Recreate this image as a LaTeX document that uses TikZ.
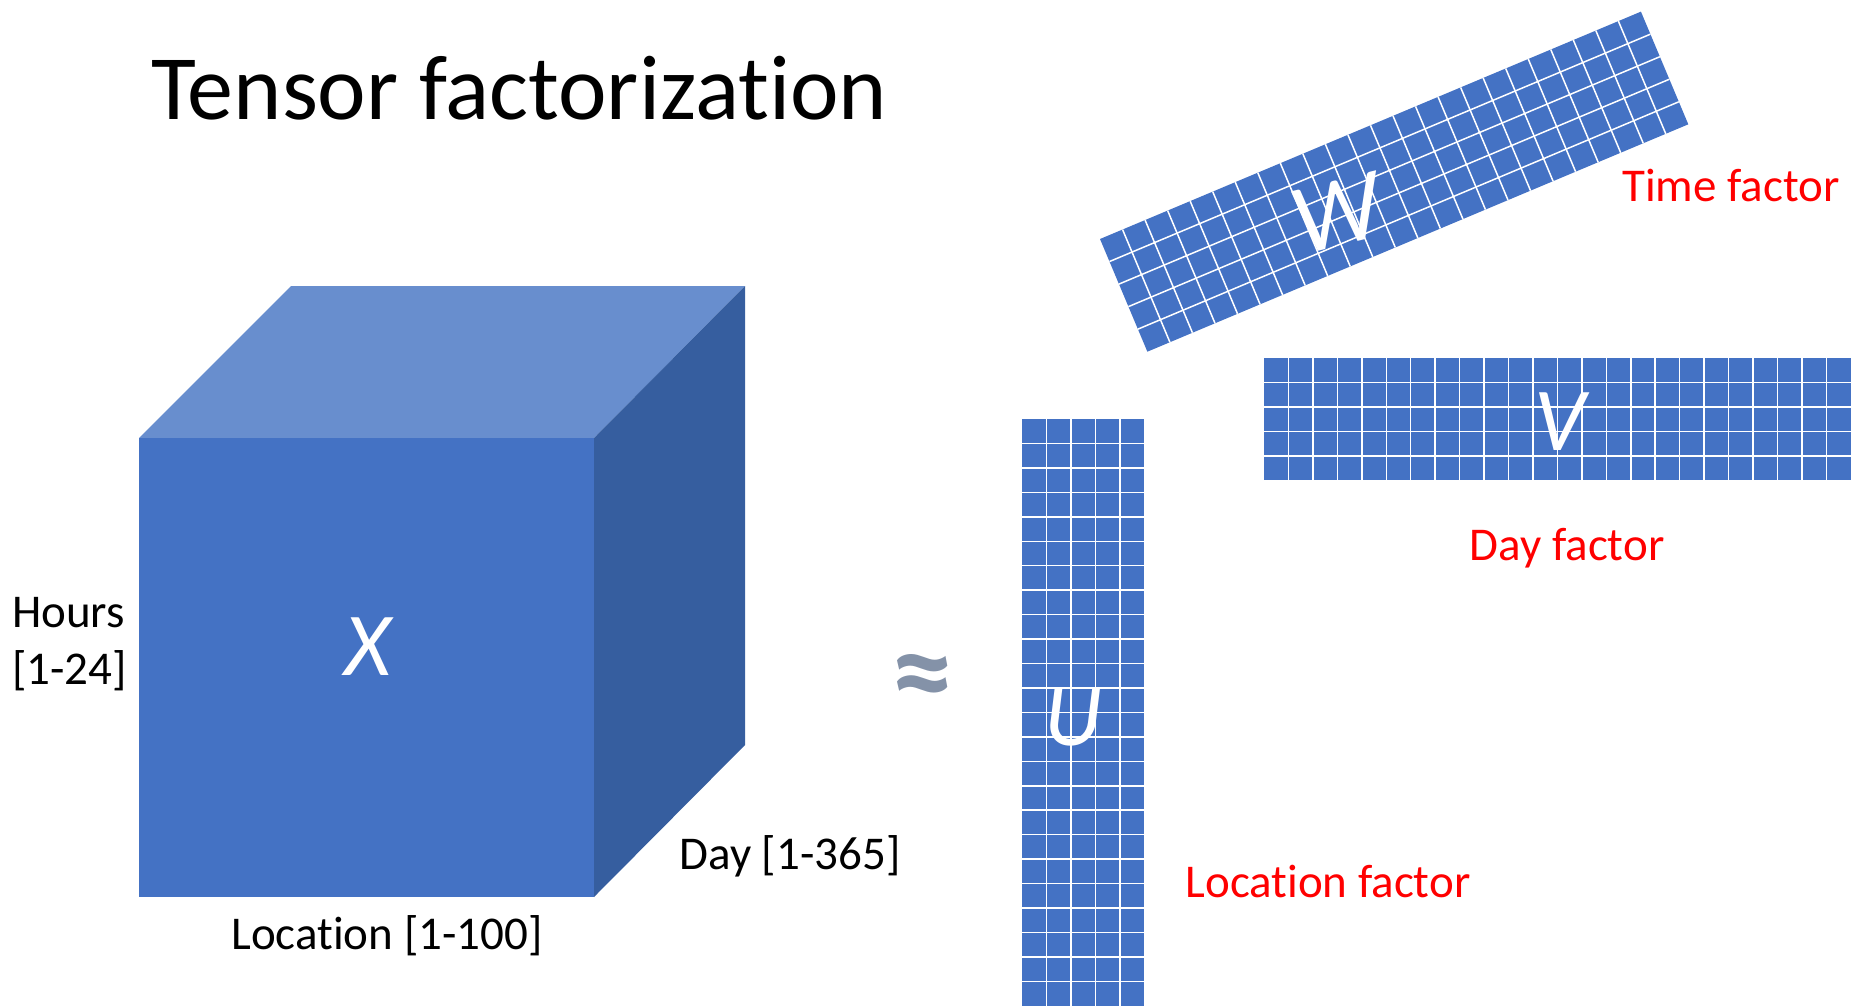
\documentclass[tikz,border=0pt]{standalone}
\usepackage{fontspec}
\setmainfont{Carlito}[Ligatures=NoCommon]
\usetikzlibrary{positioning}
\definecolor{officeblue}{RGB}{68,114,196}
\definecolor{cubetop}{RGB}{104,142,206}
\definecolor{cubeside}{RGB}{54,94,159}
\definecolor{approxgray}{RGB}{132,146,168}
\definecolor{factorred}{RGB}{255,0,0}
\newcommand{\cellsize}{24.45}
% filled factor matrix with white cell lines: #1 columns, #2 rows
\newcommand{\factorgrid}[2]{%
    \fill[officeblue] (0,0) rectangle (#1*\cellsize,#2*\cellsize);
    \foreach \i in {1,...,\numexpr#1-1\relax}
        \draw[gridline] (\i*\cellsize,0) -- (\i*\cellsize,#2*\cellsize);
    \foreach \j in {1,...,\numexpr#2-1\relax}
        \draw[gridline] (0,\j*\cellsize) -- (#1*\cellsize,\j*\cellsize);
}
\tikzset{
    lbl/.style={font=\fontsize{47}{57}\selectfont, inner sep=0pt},
    redlbl/.style={lbl, text=factorred},
    bigletter/.style={font=\fontsize{90}{100}\selectfont\itshape, text=white, inner sep=0pt},
    gridline/.style={white, line width=1.5pt},
}

\begin{document}
\begin{tikzpicture}[x=1pt,y=-1pt]
    \useasboundingbox (0,0) rectangle (1863,1005);
    \node[anchor=base west, font=\fontsize{92}{106}\selectfont, inner sep=0pt] (title) at (151,119) {Tensor factorization};

    % --- Data cube X ---
    \fill[cubetop] (139,438) -- (291,286) -- (745,286) -- (594,438) -- cycle;
    \fill[cubeside] (594,438) -- (745,286) -- (745,745) -- (594,897) -- cycle;
    \fill[officeblue] (139,438) rectangle (594,897);
    \node[bigletter] (X) at (368,647) {X};
    \node[lbl, align=left, anchor=west] (hours) at (12,644) {Hours\\{[1-24]}};
    \node[lbl] (location) at (387,936) {Location [1-100]};
    \node[lbl] (day) at (790,856) {Day [1-365]};
    \node[font=\fontsize{125}{130}\selectfont\bfseries, text=approxgray, inner sep=0pt] (approx) at (923,684) {≈};

    % --- Location factor U ---
    \begin{scope}[shift={(1022,419)}]
        \factorgrid{5}{24}
        \node[bigletter] (U) at (2.1*\cellsize,12.2*\cellsize) {U};
    \end{scope}
    \node[redlbl] (ulabel) at (1328,881) {Location factor};

    % --- Day factor V ---
    \begin{scope}[shift={(1264,358)}]
        \factorgrid{24}{5}
        \node[bigletter] (V) at (12.1*\cellsize,2.6*\cellsize) {V};
    \end{scope}
    \node[redlbl] (vlabel) at (1567,548) {Day factor};

    % --- Time factor W ---
    \begin{scope}[shift={(1100,239)}, rotate=22.8]
        \factorgrid{24}{5}
        \node[bigletter, font=\fontsize{100}{110}\selectfont\itshape, rotate=14] (W) at (9.33*\cellsize,2.8*\cellsize) {W};
    \end{scope}
    \node[redlbl] (wlabel) at (1731,185) {Time factor};
\end{tikzpicture}
\end{document}
